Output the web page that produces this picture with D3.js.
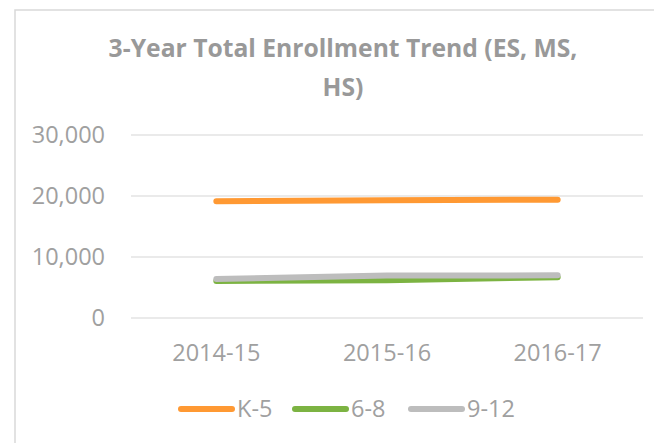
<!DOCTYPE html>
<html>
<head>
<meta charset="utf-8">
<script src="https://cdn.jsdelivr.net/npm/d3@7"></script>
<style>
  body { margin: 0; background: #fff; }
  svg { display: block; font-family: "Open Sans", sans-serif; }
</style>
</head>
<body>
<div id="chart"></div>
<script>
// Chart data
const years = ["2014-15", "2015-16", "2016-17"];
const k5 = [19150, 19300, 19400];
const g68 = [6080, 6200, 6700];
const g912 = [6400, 6950, 7000];
const yTicks = [0, 10000, 20000, 30000];
const seriesNames = ["K-5", "6-8", "9-12"];
const seriesColors = ["#FF9933", "#7CB342", "#BDBDBD"];

const width = 654, height = 443;
const margin = { top: 135, right: 11, bottom: 125, left: 131 };

const svg = d3.select("#chart")
    .append("svg")
    .attr("width", width)
    .attr("height", height);

// Outer chart border (cut off on right and bottom)
svg.append("rect")
    .attr("x", 15)
    .attr("y", 10)
    .attr("width", 700)
    .attr("height", 500)
    .attr("fill", "none")
    .attr("stroke", "#d9d9d9")
    .attr("stroke-width", 1.5);

// Title
const title = svg.append("text")
    .attr("text-anchor", "middle")
    .attr("fill", "#999999")
    .style("font-weight", "bold")
    .style("font-size", "22px");
const t1 = title.append("tspan").attr("x", 343).attr("y", 57).text("3-Year Total Enrollment Trend (ES, MS,");
title.append("tspan").attr("x", 343).attr("y", 96).text("HS)");

// fit first title line to the width it has in the original (~469px)
let w1 = t1.node().getComputedTextLength();
if (w1 > 0) title.style("font-size", (22 * 469 / w1) + "px");

// Scales
let x = d3.scaleBand()
    .domain(years)
    .range([margin.left, width - margin.right]);

let y = d3.scaleLinear()
    .domain([0, 30000])
    .range([height - margin.bottom, margin.top]);

// Gridlines
svg.append("g")
    .selectAll("line")
    .data(yTicks)
    .join("line")
    .attr("x1", margin.left)
    .attr("x2", width - margin.right)
    .attr("y1", d => y(d))
    .attr("y2", d => y(d))
    .attr("stroke", "#e3e3e3")
    .attr("stroke-width", 1.5);

// Y-axis labels
svg.append("g")
    .selectAll("text")
    .data(yTicks)
    .join("text")
    .attr("x", 105)
    .attr("y", d => y(d))
    .attr("dy", "0.36em")
    .attr("text-anchor", "end")
    .attr("fill", "#a0a0a0")
    .style("font-size", "23.5px")
    .text(d => d3.format(",")(d));

// X-axis labels
svg.append("g")
    .selectAll("text")
    .data(years)
    .join("text")
    .attr("x", d => x(d) + x.bandwidth() / 2)
    .attr("y", 361)
    .attr("text-anchor", "middle")
    .attr("fill", "#a0a0a0")
    .style("font-size", "23.5px")
    .text(d => d);

// Lines
let line = d3.line()
    .x((d, i) => x(years[i]) + x.bandwidth() / 2)
    .y(d => y(d));

const seriesData = [k5, g68, g912];
svg.append("g")
    .selectAll("path")
    .data(seriesData)
    .join("path")
    .attr("fill", "none")
    .attr("stroke", (d, i) => seriesColors[i])
    .attr("stroke-width", 6)
    .attr("stroke-linecap", "round")
    .attr("stroke-linejoin", "round")
    .attr("d", d => line(d));

// Legend
const legendX = [178, 292, 408];
const legend = svg.append("g")
    .selectAll("g")
    .data(seriesNames)
    .join("g")
    .attr("transform", (d, i) => `translate(${legendX[i]}, 409)`);

legend.append("line")
    .attr("x1", 3)
    .attr("x2", 54)
    .attr("stroke", (d, i) => seriesColors[i])
    .attr("stroke-width", 6)
    .attr("stroke-linecap", "round");

legend.append("text")
    .attr("x", 59)
    .attr("dy", "0.36em")
    .attr("fill", "#a0a0a0")
    .style("font-size", "23.5px")
    .text(d => d);
</script>
</body>
</html>
